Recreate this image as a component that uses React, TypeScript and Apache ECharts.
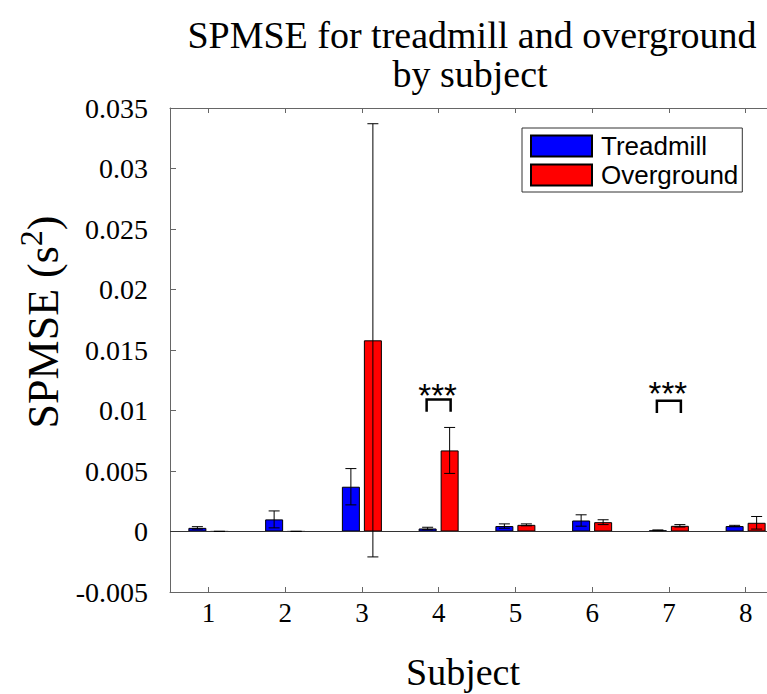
import React, { useEffect, useRef } from "react";
import * as echarts from "echarts";

// Subjects on the x axis
const subjects = ["1", "2", "3", "4", "5", "6", "7", "8"];

// Mean SPMSE (s^2) and error (half-length of the error bar) per subject
const treadmillMean = [0.0003, 0.001, 0.0037, 0.00025, 0.00045, 0.00091, 0.0001, 0.00045];
const treadmillErr = [0.0001, 0.0007, 0.0015, 0.0001, 0.00018, 0.00047, 0.00003, 0.00006];
const overgroundMean = [0.00001, 0.00001, 0.0158, 0.0067, 0.00055, 0.00077, 0.00047, 0.00072];
const overgroundErr = [0.000005, 0.000005, 0.0179, 0.0019, 0.00008, 0.0002, 0.0001, 0.00052];

// Significance markers: subject index, bracket top, bracket leg end, star height
const sigSubjectIndex = [3, 6];
const sigBracketTop = [0.0109, 0.0108];
const sigBracketLeg = [0.0099, 0.0098];
const sigStarLevel = [0.01125, 0.0114];

// Y axis range
const yMin = -0.005;
const yMax = 0.035;
const yStep = 0.005;

const SERIF = "'Liberation Serif', 'Times New Roman', serif";
const SANS = "'Liberation Sans', Arial, sans-serif";
const AXIS_COLOR = "#666";

const BAR_W = 18;
const BAR_GAP = 4;
const OFFSET = (BAR_W + BAR_GAP) / 2;

function errorBarSeries(name: string, means: number[], errs: number[], dx: number) {
  return {
    type: "custom",
    name,
    xAxisIndex: 0,
    yAxisIndex: 0,
    silent: true,
    z: 5,
    encode: { x: 0, y: 1 },
    data: means.map((m, i) => [i, m, errs[i]]),
    renderItem: (_params: any, api: any) => {
      const i = api.value(0);
      const m = api.value(1);
      const e = api.value(2);
      const top = api.coord([i, m + e]);
      const bot = api.coord([i, m - e]);
      const x = top[0] + dx;
      const cap = 5.5;
      const style = { stroke: "#000", lineWidth: 1, fill: null };
      return {
        type: "group",
        children: [
          { type: "line", shape: { x1: x, y1: top[1], x2: x, y2: bot[1] }, style },
          { type: "line", shape: { x1: x - cap, y1: top[1], x2: x + cap, y2: top[1] }, style },
          { type: "line", shape: { x1: x - cap, y1: bot[1], x2: x + cap, y2: bot[1] }, style },
        ],
      };
    },
  };
}

export default function App() {
  const ref = useRef<HTMLDivElement>(null);

  useEffect(() => {
    if (!ref.current) return;
    const chart = echarts.init(ref.current, null, { renderer: "svg" });

    const option: any = {
      animation: false,
      backgroundColor: "#fff",
      grid: {
        left: 170,
        top: 108,
        width: 614,
        height: 484,
        containLabel: false,
        outerBoundsMode: "none",
      },
      legend: {
        orient: "vertical",
        left: 522,
        top: 128,
        backgroundColor: "#fff",
        borderColor: "#333",
        borderWidth: 1,
        borderRadius: 0,
        padding: [5, 4, 4, 8],
        itemWidth: 61,
        itemHeight: 21,
        itemGap: 3,
        icon: "rect",
        data: ["Treadmill", "Overground"],
        textStyle: {
          fontFamily: SANS,
          fontSize: 26,
          color: "#000",
          padding: [0, 0, 0, 4],
        },
      },
      graphic: [
        {
          type: "text",
          x: 472,
          y: 35,
          style: {
            text: "SPMSE for treadmill and overground",
            fontFamily: SERIF,
            fontSize: 38,
            fill: "#000",
            align: "center",
            verticalAlign: "middle",
          },
        },
        {
          type: "text",
          x: 470,
          y: 74,
          style: {
            text: "by subject",
            fontFamily: SERIF,
            fontSize: 38,
            fill: "#000",
            align: "center",
            verticalAlign: "middle",
          },
        },
        {
          type: "text",
          x: 463,
          y: 672,
          style: {
            text: "Subject",
            fontFamily: SERIF,
            fontSize: 38,
            fill: "#000",
            align: "center",
            verticalAlign: "middle",
          },
        },
        {
          type: "text",
          x: 40,
          y: 322,
          rotation: Math.PI / 2,
          style: {
            text: "{a|SPMSE (s}{b|2}{a|)}",
            align: "center",
            verticalAlign: "middle",
            rich: {
              a: { fontFamily: SERIF, fontSize: 44, fill: "#000", lineHeight: 50, verticalAlign: "bottom" },
              b: { fontFamily: SERIF, fontSize: 32, fill: "#000", lineHeight: 50, verticalAlign: "top" },
            },
          },
        },
      ],
      xAxis: [
        {
          type: "category",
          data: subjects,
          position: "bottom",
          axisLine: { show: true, onZero: false, lineStyle: { color: AXIS_COLOR, width: 1 } },
          axisTick: { show: true, inside: true, length: 5, alignWithLabel: true, lineStyle: { color: AXIS_COLOR } },
          axisLabel: { fontFamily: SERIF, fontSize: 27, color: "#000", margin: 7 },
          splitLine: { show: false },
        },
        {
          type: "category",
          data: subjects,
          position: "top",
          axisLine: { show: true, onZero: false, lineStyle: { color: AXIS_COLOR, width: 1 } },
          axisTick: { show: true, inside: true, length: 5, alignWithLabel: true, lineStyle: { color: AXIS_COLOR } },
          axisLabel: { show: false },
          splitLine: { show: false },
        },
      ],
      yAxis: {
        type: "value",
        min: yMin,
        max: yMax,
        interval: yStep,
        axisLine: { show: true, lineStyle: { color: AXIS_COLOR, width: 1 } },
        axisTick: { show: true, inside: true, length: 6, lineStyle: { color: AXIS_COLOR } },
        axisLabel: {
          fontFamily: SERIF,
          fontSize: 28,
          color: "#000",
          margin: 22,
          formatter: (v: number) => String(parseFloat(v.toFixed(3))),
        },
        splitLine: { show: false },
      },
      series: [
        {
          name: "Treadmill",
          type: "bar",
          data: treadmillMean,
          barWidth: BAR_W,
          barGap: `${(BAR_GAP / BAR_W) * 100}%`,
          itemStyle: { color: "#0000ff", borderColor: "#000", borderWidth: 1 },
          markLine: {
            silent: true,
            symbol: "none",
            label: { show: false },
            lineStyle: { color: "#333", width: 1, type: "solid" },
            data: [{ yAxis: 0 }],
          },
        },
        {
          name: "Overground",
          type: "bar",
          data: overgroundMean,
          barWidth: BAR_W,
          itemStyle: { color: "#ff0000", borderColor: "#000", borderWidth: 1 },
        },
        errorBarSeries("treadmillErr", treadmillMean, treadmillErr, -OFFSET),
        errorBarSeries("overgroundErr", overgroundMean, overgroundErr, OFFSET),
        {
          type: "custom",
          name: "significance",
          silent: true,
          z: 6,
          encode: { x: 0, y: 1 },
          data: sigSubjectIndex.map((s, k) => [s, sigBracketTop[k], sigBracketLeg[k], sigStarLevel[k]]),
          renderItem: (_params: any, api: any) => {
            const i = api.value(0);
            const top = api.coord([i, api.value(1)]);
            const leg = api.coord([i, api.value(2)]);
            const star = api.coord([i, api.value(3)]);
            const half = OFFSET + 1;
            return {
              type: "group",
              children: [
                {
                  type: "polyline",
                  shape: {
                    points: [
                      [top[0] - half, leg[1]],
                      [top[0] - half, top[1]],
                      [top[0] + half, top[1]],
                      [top[0] + half, leg[1]],
                    ],
                  },
                  style: { stroke: "#000", lineWidth: 2.5, fill: null },
                },
                {
                  type: "text",
                  x: star[0] - 1,
                  y: star[1],
                  style: {
                    text: "***",
                    fontFamily: SANS,
                    fontSize: 33,
                    fill: "#000",
                    align: "center",
                    verticalAlign: "middle",
                  },
                },
              ],
            };
          },
        },
      ],
    };

    chart.setOption(option);
    return () => chart.dispose();
  }, []);

  return (
    <div
      ref={ref}
      style={{ position: "fixed", left: 0, top: 0, width: 767, height: 694, background: "#fff" }}
    />
  );
}
